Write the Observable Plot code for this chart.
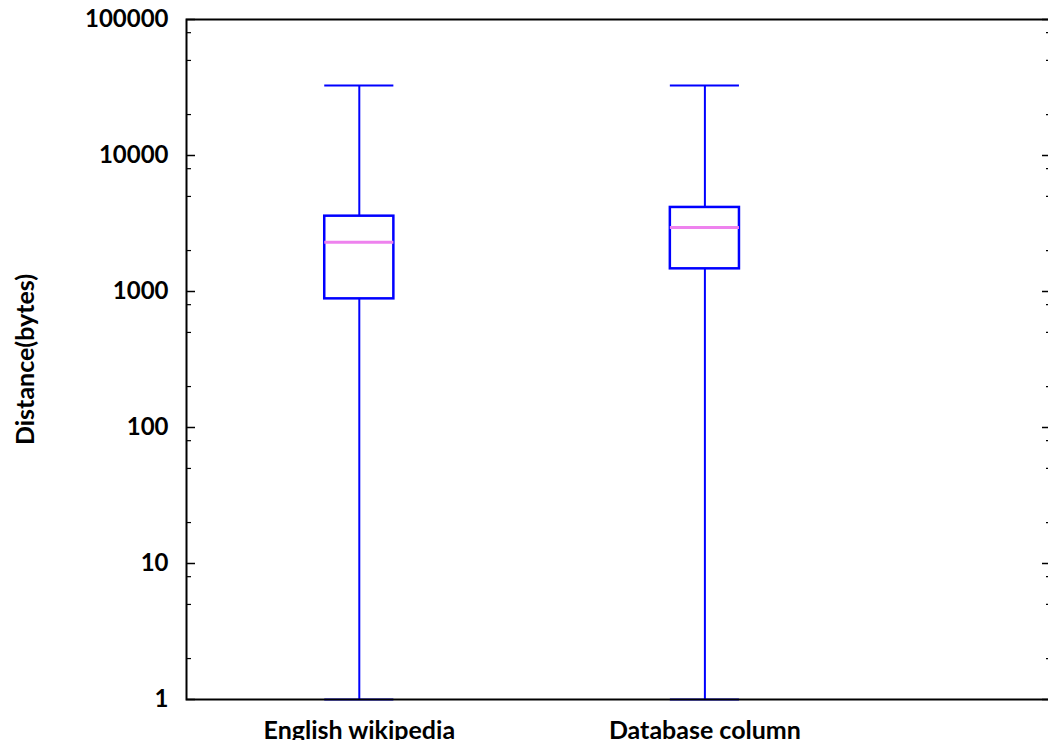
<!DOCTYPE html>
<html>
<head>
<meta charset="utf-8">
<script src="https://cdn.jsdelivr.net/npm/d3@7"></script>
<script src="https://cdn.jsdelivr.net/npm/@observablehq/plot@0.6"></script>
<style>
  html, body { margin: 0; padding: 0; background: white; overflow: hidden; }
  #chart { width: 1048px; height: 740px; overflow: hidden; }
  #chart svg { max-width: none !important; }
</style>
</head>
<body>
<div id="chart"></div>
<script>
const categories = ["English wikipedia", "Database column"];
const positions = [1, 2];
const whiskerLow = [1, 1];
const q1 = [883, 1468];
const median = [2304, 2955];
const q3 = [3580, 4150];
const whiskerHigh = [32768, 32768];
const majorTicks = [1, 10, 100, 1000, 10000, 100000];
const minorTicks = [2, 5, 8, 20, 50, 80, 200, 500, 800, 2000, 5000, 8000, 20000, 50000, 80000];
const yLabel = "Distance(bytes)";

const boxes = categories.map((c, i) => ({
  cat: c, pos: positions[i], lo: whiskerLow[i], q1: q1[i], med: median[i], q3: q3[i], hi: whiskerHigh[i]
}));

const half = 0.1;
const blue = "#0000ff";

const chart = Plot.plot({
  width: 1051,
  height: 740,
  marginLeft: 186,
  marginRight: 1,
  marginTop: 19,
  marginBottom: 41,
  style: {fontFamily: "Lato", fontWeight: "bold", fontSize: "24px", color: "black", background: "white"},
  x: {type: "linear", domain: [0.5, 3]},
  y: {type: "log", domain: [1, 100000]},
  marks: [
    Plot.ruleX(boxes, {x: "pos", y1: "lo", y2: "hi", stroke: blue, strokeWidth: 2}),
    Plot.ruleY(boxes, {y: "hi", x1: d => d.pos - half, x2: d => d.pos + half, stroke: blue, strokeWidth: 2}),
    Plot.ruleY(boxes, {y: "lo", x1: d => d.pos - half, x2: d => d.pos + half, stroke: blue, strokeWidth: 2}),
    Plot.rect(boxes, {x1: d => d.pos - half, x2: d => d.pos + half, y1: "q1", y2: "q3", fill: "white", stroke: blue, strokeWidth: 2.5}),
    Plot.ruleY(boxes, {y: "med", x1: d => d.pos - half, x2: d => d.pos + half, stroke: "#ee82ee", strokeWidth: 3}),
    Plot.axisY({anchor: "left", ticks: majorTicks, tickSize: -9, tickPadding: 27, tickFormat: d => String(d), strokeWidth: 1.5, label: null, fontSize: 24}),
    Plot.axisY({anchor: "left", ticks: minorTicks, tickSize: -5, tickFormat: () => "", strokeWidth: 1.2, label: null}),
    Plot.axisY({anchor: "right", ticks: majorTicks, tickSize: -9, tickFormat: () => "", strokeWidth: 1.5, label: null}),
    Plot.axisY({anchor: "right", ticks: minorTicks, tickSize: -5, tickFormat: () => "", strokeWidth: 1.2, label: null}),
    Plot.axisX({ticks: positions, tickSize: 0, tickPadding: 22, tickFormat: d => categories[positions.indexOf(d)], label: null, fontSize: 25}),
    Plot.text([yLabel], {frameAnchor: "left", textAnchor: "middle", text: d => d, rotate: -90, dx: -161, fontSize: 25, fontWeight: "bold"}),
    Plot.frame({stroke: "black", strokeWidth: 2})
  ]
});
document.getElementById("chart").appendChild(chart);
</script>
</body>
</html>
